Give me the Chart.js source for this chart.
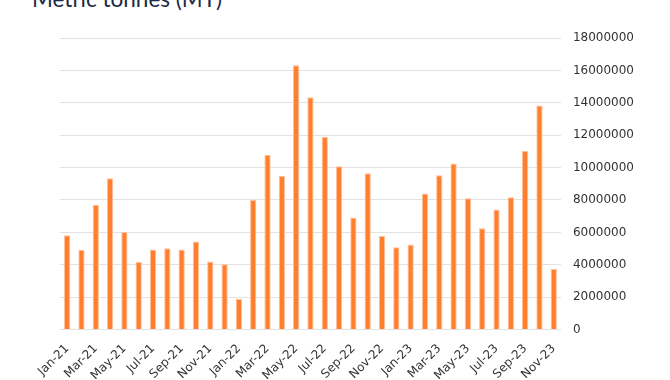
<!DOCTYPE html>
<html>
<head>
<meta charset="utf-8">
<script src="https://cdn.jsdelivr.net/npm/chart.js@4"></script>
<style>
  html, body { margin: 0; padding: 0; background: #ffffff; }
  #wrap { position: relative; width: 670px; height: 380px; overflow: hidden; }
  #title { position: absolute; left: 32px; top: -15px; font-family: Lato, sans-serif; font-size: 22.5px; color: #1b2a45; white-space: nowrap; }
  canvas { position: absolute; left: 0; top: 0; }
</style>
</head>
<body>
<div id="wrap">
  <div id="title">Metric tonnes (MT)</div>
  <canvas id="c" width="670" height="380"></canvas>
</div>
<script>
const months = ["Jan-21","Feb-21","Mar-21","Apr-21","May-21","Jun-21","Jul-21","Aug-21","Sep-21","Oct-21","Nov-21","Dec-21",
  "Jan-22","Feb-22","Mar-22","Apr-22","May-22","Jun-22","Jul-22","Aug-22","Sep-22","Oct-22","Nov-22","Dec-22",
  "Jan-23","Feb-23","Mar-23","Apr-23","May-23","Jun-23","Jul-23","Aug-23","Sep-23","Oct-23","Nov-23"];
const tonnes = [5820000,4910000,7710000,9340000,6020000,4170000,4950000,5020000,4940000,5430000,4200000,4030000,
  1890000,8000000,10780000,9480000,16310000,14340000,11890000,10080000,6920000,9650000,5780000,5080000,
  5250000,8400000,9520000,10250000,8100000,6250000,7420000,8170000,11020000,13830000,3760000];
const yMin = 0, yMax = 18000000, yStep = 2000000;

new Chart(document.getElementById('c'), {
  type: 'bar',
  data: {
    labels: months,
    datasets: [{
      data: tonnes,
      backgroundColor: '#ff7f2f',
      borderColor: '#ffc09a',
      borderWidth: 1,
      categoryPercentage: 0.5,
      barPercentage: 0.88
    }]
  },
  options: {
    responsive: false,
    animation: false,
    devicePixelRatio: 1,
    layout: { padding: { left: 60, right: 24, top: 38, bottom: -7 } },
    plugins: { legend: { display: false }, tooltip: { enabled: false }, title: { display: false } },
    scales: {
      x: {
        grid: { display: false },
        border: { display: false },
        ticks: {
          autoSkip: false,
          minRotation: 45, maxRotation: 45,
          padding: 4,
          color: '#333333',
          font: { family: 'DejaVu Sans', size: 12 },
          callback: function(v, i) { return i % 2 === 0 ? months[i] : ''; }
        }
      },
      y: {
        position: 'right',
        min: yMin, max: yMax,
        grid: { color: '#e2e2e2', lineWidth: 1, drawTicks: false },
        border: { display: false },
        ticks: {
          stepSize: yStep,
          padding: 12,
          color: '#333333',
          font: { family: 'DejaVu Sans', size: 12 },
          callback: function(v) { return String(v); }
        }
      }
    }
  }
});
</script>
</body>
</html>
